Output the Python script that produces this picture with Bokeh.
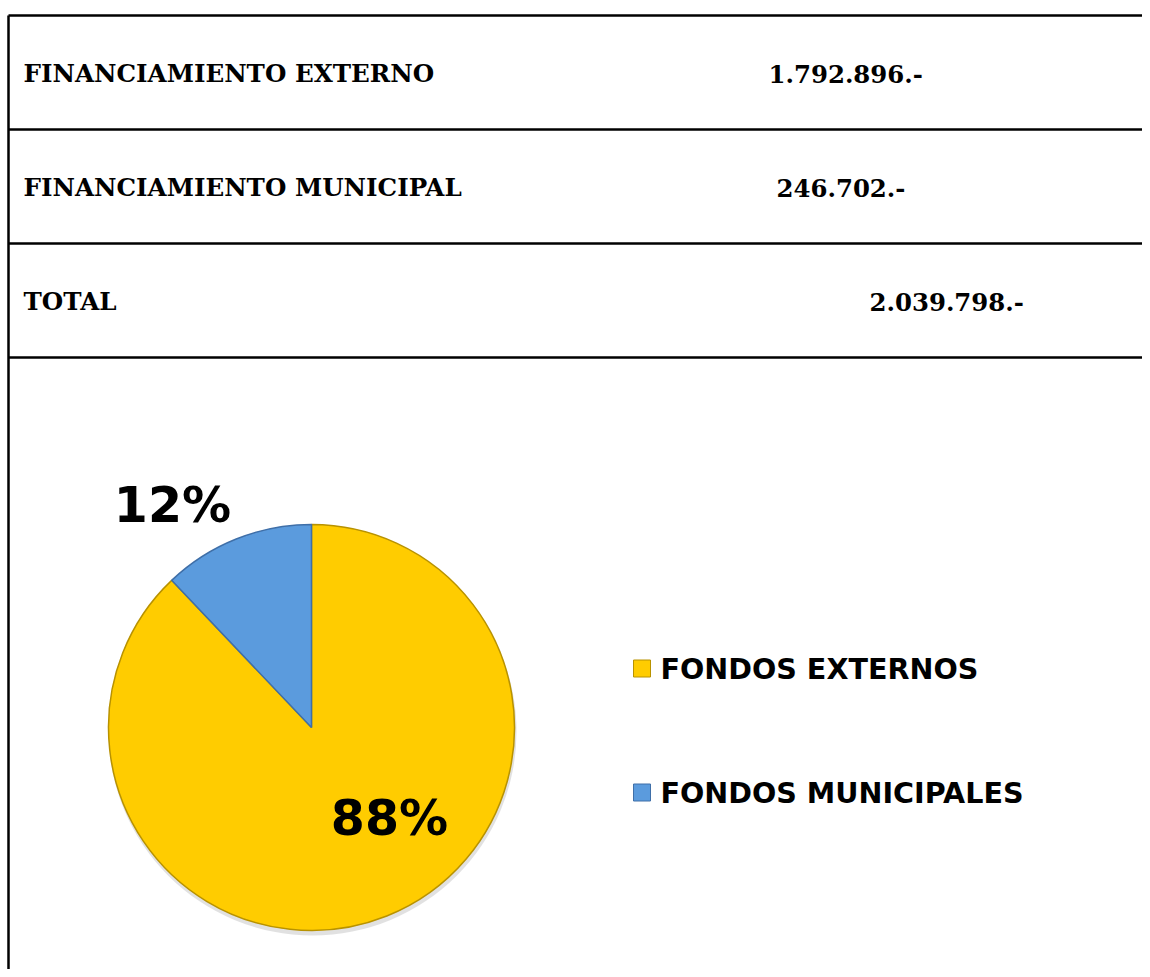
import math
from bokeh.plotting import figure
from bokeh.models import Range1d, ColumnDataSource
from bokeh.core.properties import value
from bokeh.embed import file_html
from bokeh.resources import INLINE

# ---- data ----
table_labels = ["FINANCIAMIENTO EXTERNO", "FINANCIAMIENTO MUNICIPAL", "TOTAL"]
table_values = ["1.792.896.-", "246.702.-", "2.039.798.-"]
categories = ["FONDOS EXTERNOS", "FONDOS MUNICIPALES"]
amounts = [1792896, 246702]
colors = ["#FFCC00", "#5B9BDD"]
edge_colors = ["#B89200", "#3F6FA8"]

# ---- canvas: data coords equal screen pixels (y measured from top) ----
W, H = 1142, 969
VIEW_H = 977
p = figure(width=W, height=H, output_backend="svg", toolbar_location=None,
           x_range=Range1d(0, W), y_range=Range1d(VIEW_H - H, VIEW_H),
           min_border=0)
p.axis.visible = False
p.grid.visible = False
p.outline_line_color = None
p.background_fill_color = "white"

def Y(v):
    return VIEW_H - v

# ---- table ----
row_lines = [15, 129, 243, 357]
p.segment(x0=[8] * 4, y0=[Y(v) for v in row_lines], x1=[1160] * 4, y1=[Y(v) for v in row_lines],
          line_color="black", line_width=2.5)
p.segment(x0=[8], y0=[Y(15)], x1=[8], y1=[Y(990)], line_color="black", line_width=2.5)

row_centers = [(row_lines[i] + row_lines[i + 1]) / 2 + 1 for i in range(3)]
p.text(x=[23] * 3, y=[Y(c) for c in row_centers], text=table_labels,
       text_font=value("DejaVu Serif"), text_font_style="bold", text_font_size="24.6px",
       text_baseline="middle", text_align="left", text_color="black")
val_x = [768, 776, 869]
p.text(x=val_x, y=[Y(c) for c in row_centers], text=table_values,
       text_font=value("DejaVu Serif"), text_font_style="bold", text_font_size="24.4px",
       text_baseline="middle", text_align="left", text_color="black")

# ---- pie ----
total = sum(amounts)
fracs = [a / total for a in amounts]
# municipal slice starts at 12 o'clock going counter-clockwise; externo fills the rest
start_m = math.pi / 2
end_m = start_m + 2 * math.pi * fracs[1]
starts = [end_m, start_m]
ends = [start_m + 2 * math.pi, end_m]
cx, cy, r = 311, 727, 203

# soft shadow
p.circle(x=[cx + 1], y=[Y(cy + 4)], radius=r + 1, fill_color="#888888", fill_alpha=0.25, line_color=None)
src = ColumnDataSource(dict(start=starts, end=ends, color=colors, edge=edge_colors))
p.wedge(x=cx, y=Y(cy), radius=r, start_angle="start", end_angle="end",
        fill_color="color", line_color="edge", line_width=1.5, source=src)

pct = [f"{round(f * 100)}%" for f in fracs]
p.text(x=[389, 172], y=[Y(818), Y(505)], text=pct,
       text_font=value("DejaVu Sans"), text_font_style="bold", text_font_size="49px",
       text_baseline="middle", text_align="center", text_color="black")

# ---- legend ----
leg_y = [668, 792]
p.rect(x=[641.5] * 2, y=[Y(v) for v in leg_y], width=17, height=17,
       fill_color=colors, line_color=edge_colors, line_width=1)
p.text(x=[660] * 2, y=[Y(v) for v in leg_y], text=categories,
       text_font=value("DejaVu Sans"), text_font_style="bold", text_font_size="28.6px",
       text_baseline="middle", text_align="left", text_color="black")

open("out.html", "w").write(file_html(p, INLINE))
